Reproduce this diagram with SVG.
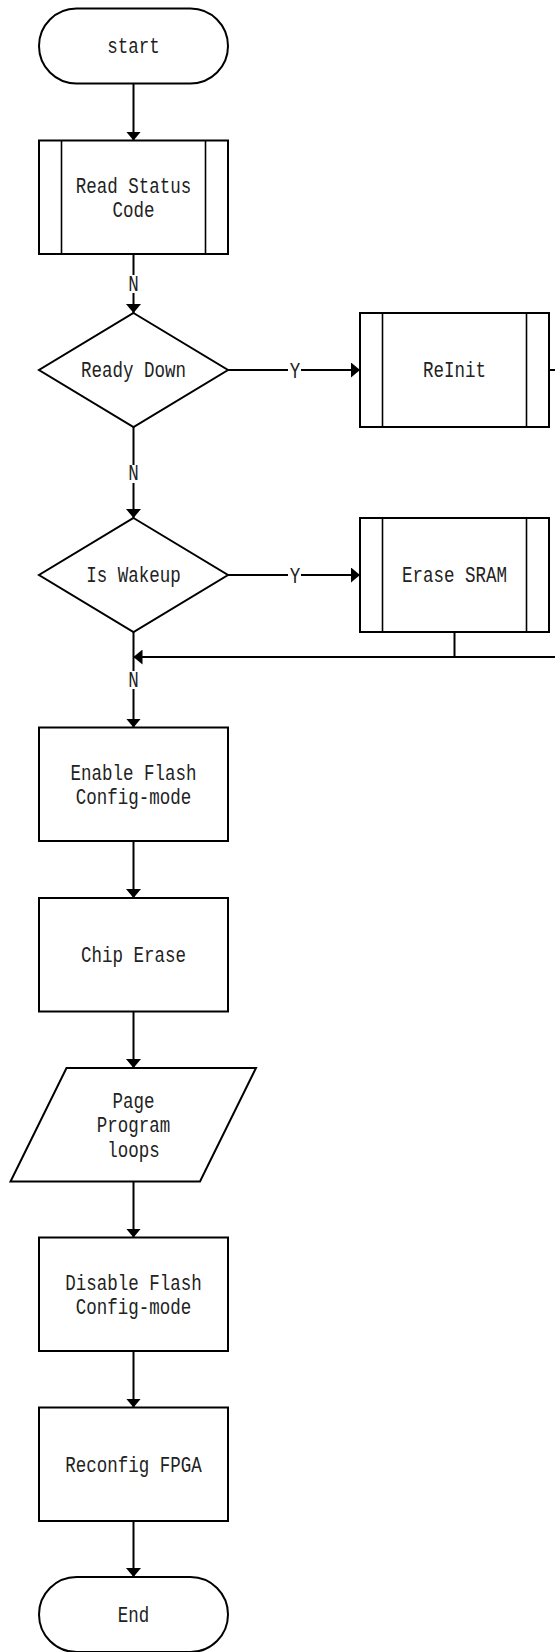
<svg xmlns="http://www.w3.org/2000/svg" width="555" height="1652" viewBox="0 0 555 1652">
<style>
.s{fill:#fff;stroke:#000;stroke-width:2}
.in{stroke:#000;stroke-width:1.6;fill:none}
.c{fill:none;stroke:#000;stroke-width:2}
.t{font-family:"Liberation Mono","DejaVu Sans Mono",monospace;font-size:17.5px;fill:#222;text-anchor:middle}
.bg{fill:#fff}
</style>
<defs>
<marker id="ah" markerWidth="9" markerHeight="15" refX="9" refY="7.5" orient="auto" markerUnits="userSpaceOnUse" viewBox="0 0 9 15">
<path d="M0,0 L9,7.5 L0,15 Z" fill="#000"/>
</marker>
</defs>
<g id="connectors">
<line class="c" x1="133.5" y1="83.5" x2="133.5" y2="140.5" marker-end="url(#ah)"/>
<line class="c" x1="133.5" y1="254" x2="133.5" y2="313" marker-end="url(#ah)"/>
<rect class="bg" x="126" y="275" width="15" height="18"/>
<text class="t" transform="translate(133.5,290.5) scale(1,1.25)">N</text>
<line class="c" x1="228" y1="370" x2="360" y2="370" marker-end="url(#ah)"/>
<rect class="bg" x="288" y="362" width="13" height="17"/>
<text class="t" transform="translate(295,377.5) scale(1,1.25)">Y</text>
<line class="c" x1="549" y1="370" x2="556" y2="370"/>
<line class="c" x1="133.5" y1="427" x2="133.5" y2="518" marker-end="url(#ah)"/>
<rect class="bg" x="126" y="465" width="15" height="18"/>
<text class="t" transform="translate(133.5,480) scale(1,1.25)">N</text>
<line class="c" x1="228" y1="575" x2="360" y2="575" marker-end="url(#ah)"/>
<rect class="bg" x="288" y="567" width="13" height="17"/>
<text class="t" transform="translate(295,582.5) scale(1,1.25)">Y</text>
<line class="c" x1="454.5" y1="632" x2="454.5" y2="657"/>
<line class="c" x1="556" y1="657" x2="133.5" y2="657" marker-end="url(#ah)"/>
<line class="c" x1="133.5" y1="632" x2="133.5" y2="727.5" marker-end="url(#ah)"/>
<rect class="bg" x="126" y="671" width="15" height="18"/>
<text class="t" transform="translate(133.5,686.5) scale(1,1.25)">N</text>
<line class="c" x1="133.5" y1="841" x2="133.5" y2="898" marker-end="url(#ah)"/>
<line class="c" x1="133.5" y1="1011.5" x2="133.5" y2="1068" marker-end="url(#ah)"/>
<line class="c" x1="133.5" y1="1181.5" x2="133.5" y2="1237.5" marker-end="url(#ah)"/>
<line class="c" x1="133.5" y1="1351" x2="133.5" y2="1407.5" marker-end="url(#ah)"/>
<line class="c" x1="133.5" y1="1521" x2="133.5" y2="1577" marker-end="url(#ah)"/>
</g>
<g id="start">
<rect class="s" x="39" y="8.5" width="189" height="75" rx="37.5"/>
<text class="t" transform="translate(133.5,53) scale(1,1.25)">start</text>
</g>
<g id="read-status">
<rect class="s" x="39" y="140.5" width="189" height="113.5"/>
<line class="in" x1="61.5" y1="140.5" x2="61.5" y2="254"/>
<line class="in" x1="205.5" y1="140.5" x2="205.5" y2="254"/>
<text class="t" transform="translate(133.5,192.5) scale(1,1.25)">Read Status</text>
<text class="t" transform="translate(133.5,216.5) scale(1,1.25)">Code</text>
</g>
<g id="ready-down">
<polygon class="s" points="133.5,313 228,370 133.5,427 39,370"/>
<text class="t" transform="translate(133.5,377) scale(1,1.25)">Ready Down</text>
</g>
<g id="reinit">
<rect class="s" x="360" y="313" width="189" height="114"/>
<line class="in" x1="382.5" y1="313" x2="382.5" y2="427"/>
<line class="in" x1="526.5" y1="313" x2="526.5" y2="427"/>
<text class="t" transform="translate(454.5,377) scale(1,1.25)">ReInit</text>
</g>
<g id="is-wakeup">
<polygon class="s" points="133.5,518 228,575 133.5,632 39,575"/>
<text class="t" transform="translate(133.5,582) scale(1,1.25)">Is Wakeup</text>
</g>
<g id="erase-sram">
<rect class="s" x="360" y="518" width="189" height="114"/>
<line class="in" x1="382.5" y1="518" x2="382.5" y2="632"/>
<line class="in" x1="526.5" y1="518" x2="526.5" y2="632"/>
<text class="t" transform="translate(454.5,582) scale(1,1.25)">Erase SRAM</text>
</g>
<g id="enable-flash">
<rect class="s" x="39" y="727.5" width="189" height="113.5"/>
<text class="t" transform="translate(133.5,780) scale(1,1.25)">Enable Flash</text>
<text class="t" transform="translate(133.5,804) scale(1,1.25)">Config-mode</text>
</g>
<g id="chip-erase">
<rect class="s" x="39" y="898" width="189" height="113.5"/>
<text class="t" transform="translate(133.5,962) scale(1,1.25)">Chip Erase</text>
</g>
<g id="page-program">
<polygon class="s" points="66.5,1068 256,1068 200,1181.5 10.5,1181.5"/>
<text class="t" transform="translate(133.5,1107.5) scale(1,1.25)">Page</text>
<text class="t" transform="translate(133.5,1132) scale(1,1.25)">Program</text>
<text class="t" transform="translate(133.5,1156.5) scale(1,1.25)">loops</text>
</g>
<g id="disable-flash">
<rect class="s" x="39" y="1237.5" width="189" height="113.5"/>
<text class="t" transform="translate(133.5,1289.5) scale(1,1.25)">Disable Flash</text>
<text class="t" transform="translate(133.5,1313.5) scale(1,1.25)">Config-mode</text>
</g>
<g id="reconfig-fpga">
<rect class="s" x="39" y="1407.5" width="189" height="113.5"/>
<text class="t" transform="translate(133.5,1471.5) scale(1,1.25)">Reconfig FPGA</text>
</g>
<g id="end">
<rect class="s" x="39" y="1577" width="189" height="75" rx="37.5"/>
<text class="t" transform="translate(133.5,1622) scale(1,1.25)">End</text>
</g>
</svg>
